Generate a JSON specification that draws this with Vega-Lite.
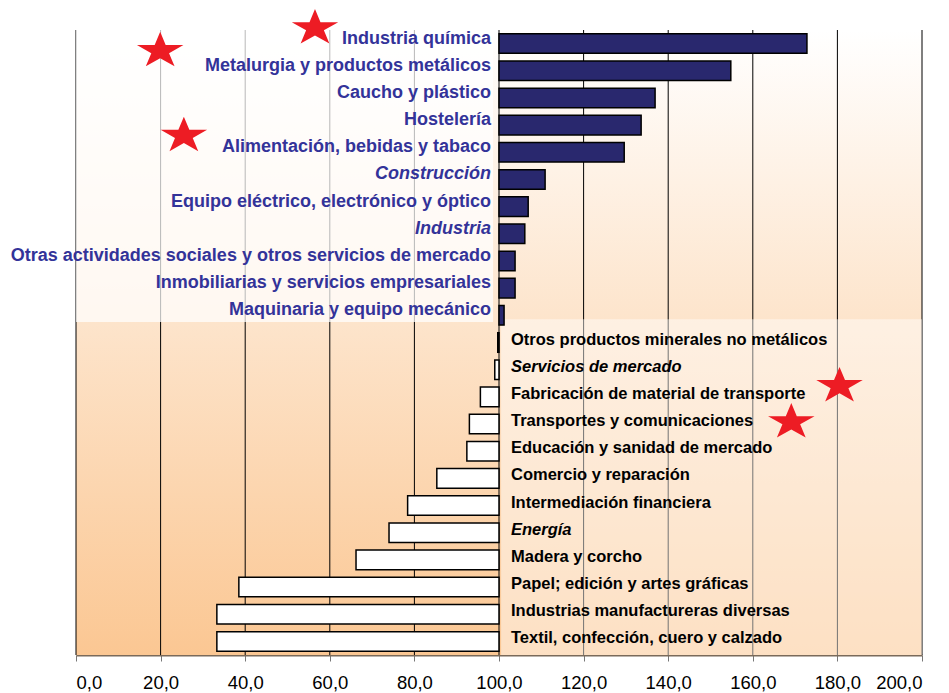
{
  "$schema": "https://vega.github.io/schema/vega-lite/v6.json",
  "width": 846,
  "height": 625,
  "autosize": "none",
  "padding": {"left": 76, "top": 30, "right": 27, "bottom": 38},
  "config": {
    "view": {"stroke": null}
  },
  "resolve": {"scale": {"y": "independent"}},
  "layer": [
    {
      "data": {"values": [{"tick": 0}, {"tick": 20}, {"tick": 40}, {"tick": 60}, {"tick": 80}, {"tick": 100}, {"tick": 120}, {"tick": 140}, {"tick": 160}, {"tick": 180}, {"tick": 200}]},
      "layer": [
        {
          "transform": [{"filter": "datum.tick == 0"}],
          "mark": {
            "type": "rect",
            "fill": {
              "gradient": "linear", "x1": 0, "y1": 0, "x2": 0, "y2": 1,
              "stops": [
                {"offset": 0, "color": "#ffffff"},
                {"offset": 0.47, "color": "#fde4cb"},
                {"offset": 1, "color": "#fbc793"}
              ]
            }
          },
          "encoding": {
            "x": {
              "datum": 0, "type": "quantitative",
              "scale": {"domain": [0, 200], "nice": false},
              "title": null,
              "axis": {
                "values": [0, 20, 40, 60, 80, 100, 120, 140, 160, 180, 200],
                "labelExpr": "replace(format(datum.value, '.1f'), '.', ',')",
                "labelFont": "Liberation Sans",
                "labelFontSize": 18.5,
                "labelColor": "#000000",
                "labelPadding": 12,
                "labelOverlap": false,
                "tickSize": 6,
                "tickColor": "#777777",
                "domainColor": "#7a6a5a",
                "domainWidth": 2,
                "grid": false,
                "title": null
              }
            },
            "x2": {"datum": 200},
            "y": {"datum": 0, "type": "quantitative", "scale": {"domain": [0, 23], "reverse": true, "nice": false, "zero": false}, "axis": null},
            "y2": {"datum": 23}
          }
        },
        {
          "mark": {"type": "rule", "color": "#000000", "strokeWidth": 1},
          "encoding": {
            "x": {"field": "tick", "type": "quantitative", "title": null},
            "y": {"datum": 0, "type": "quantitative", "axis": null},
            "y2": {"datum": 23}
          }
        },
        {
          "transform": [{"filter": "datum.tick == 0"}],
          "mark": {"type": "rect", "fill": "#ffffff", "opacity": 0.72},
          "encoding": {
            "x": {"datum": 0, "type": "quantitative", "title": null},
            "x2": {"datum": 98.6},
            "y": {"datum": 0, "type": "quantitative", "axis": null},
            "y2": {"datum": 10.75}
          }
        },
        {
          "transform": [{"filter": "datum.tick == 0"}],
          "mark": {"type": "rect", "fill": "#ffffff", "opacity": 0.45},
          "encoding": {
            "x": {"datum": 100.5, "type": "quantitative", "title": null},
            "x2": {"datum": 200},
            "y": {"datum": 10.64, "type": "quantitative", "axis": null},
            "y2": {"datum": 23}
          }
        }
      ]
    },
    {
      "data": {
        "values": [
          {"sector": "Industria química", "valor": 172.8, "agregado": false},
          {"sector": "Metalurgia y productos metálicos", "valor": 154.8, "agregado": false},
          {"sector": "Caucho y plástico", "valor": 136.9, "agregado": false},
          {"sector": "Hostelería", "valor": 133.6, "agregado": false},
          {"sector": "Alimentación, bebidas y tabaco", "valor": 129.6, "agregado": false},
          {"sector": "Construcción", "valor": 110.9, "agregado": true},
          {"sector": "Equipo eléctrico, electrónico y óptico", "valor": 106.9, "agregado": false},
          {"sector": "Industria", "valor": 106.1, "agregado": true},
          {"sector": "Otras actividades sociales y otros servicios de mercado", "valor": 103.8, "agregado": false},
          {"sector": "Inmobiliarias y servicios empresariales", "valor": 103.8, "agregado": false},
          {"sector": "Maquinaria y equipo mecánico", "valor": 101.2, "agregado": false},
          {"sector": "Otros productos minerales no metálicos", "valor": 99.7, "agregado": false},
          {"sector": "Servicios de mercado", "valor": 99.0, "agregado": true},
          {"sector": "Fabricación de material de transporte", "valor": 95.6, "agregado": false},
          {"sector": "Transportes y comunicaciones", "valor": 93.0, "agregado": false},
          {"sector": "Educación y sanidad de mercado", "valor": 92.4, "agregado": false},
          {"sector": "Comercio y reparación", "valor": 85.3, "agregado": false},
          {"sector": "Intermediación financiera", "valor": 78.4, "agregado": false},
          {"sector": "Energía", "valor": 74.0, "agregado": true},
          {"sector": "Madera y corcho", "valor": 66.2, "agregado": false},
          {"sector": "Papel; edición y artes gráficas", "valor": 38.5, "agregado": false},
          {"sector": "Industrias manufactureras diversas", "valor": 33.3, "agregado": false},
          {"sector": "Textil, confección, cuero y calzado", "valor": 33.3, "agregado": false}
        ]
      },
      "encoding": {
        "y": {"field": "sector", "type": "nominal", "sort": null, "axis": null, "scale": {"paddingInner": 0.28, "paddingOuter": 0.14}}
      },
      "layer": [
        {
          "mark": {"type": "bar", "stroke": "#000000", "strokeWidth": 1.5},
          "encoding": {
            "x": {"field": "valor", "type": "quantitative", "title": null},
            "x2": {"datum": 100},
            "fill": {"condition": {"test": "datum.valor >= 100", "value": "#29286e"}, "value": "#ffffff"}
          }
        },
        {
          "mark": {"type": "text", "align": "right", "baseline": "middle", "dx": -8, "dy": -5, "font": "Liberation Sans", "fontSize": 18, "fontWeight": "bold", "color": "#333399"},
          "encoding": {
            "x": {"datum": 100, "type": "quantitative", "title": null},
            "text": {"condition": {"test": "datum.valor >= 100 && !datum.agregado", "field": "sector"}, "value": ""}
          }
        },
        {
          "mark": {"type": "text", "align": "right", "baseline": "middle", "dx": -8, "dy": -5, "font": "Liberation Sans", "fontSize": 18, "fontWeight": "bold", "fontStyle": "italic", "color": "#333399"},
          "encoding": {
            "x": {"datum": 100, "type": "quantitative", "title": null},
            "text": {"condition": {"test": "datum.valor >= 100 && datum.agregado", "field": "sector"}, "value": ""}
          }
        },
        {
          "mark": {"type": "text", "align": "left", "baseline": "middle", "dx": 12, "dy": -3, "font": "Liberation Sans", "fontSize": 16.5, "fontWeight": "bold", "color": "#000000"},
          "encoding": {
            "x": {"datum": 100, "type": "quantitative", "title": null},
            "text": {"condition": {"test": "datum.valor < 100 && !datum.agregado", "field": "sector"}, "value": ""}
          }
        },
        {
          "mark": {"type": "text", "align": "left", "baseline": "middle", "dx": 12, "dy": -3, "font": "Liberation Sans", "fontSize": 16.5, "fontWeight": "bold", "fontStyle": "italic", "color": "#000000"},
          "encoding": {
            "x": {"datum": 100, "type": "quantitative", "title": null},
            "text": {"condition": {"test": "datum.valor < 100 && datum.agregado", "field": "sector"}, "value": ""}
          }
        }
      ]
    },
    {
      "data": {
        "values": [
          {"x": 56.5, "fila": -0.07},
          {"x": 19.9, "fila": 0.77},
          {"x": 25.5, "fila": 3.89},
          {"x": 180.5, "fila": 13.1},
          {"x": 169.1, "fila": 14.43}
        ]
      },
      "mark": {
        "type": "point",
        "shape": "M0,-0.78L0.2245,-0.241L0.951,-0.241L0.363,0.092L0.588,0.631L0,0.298L-0.588,0.631L-0.363,0.092L-0.951,-0.241L-0.2245,-0.241Z",
        "size": 2390,
        "filled": true,
        "fill": "#ed1c24",
        "stroke": null,
        "opacity": 1
      },
      "encoding": {
        "x": {"field": "x", "type": "quantitative", "title": null},
        "y": {"field": "fila", "type": "quantitative", "axis": null, "scale": {"domain": [0, 23], "reverse": true, "nice": false, "zero": false}}
      }
    }
  ]
}
